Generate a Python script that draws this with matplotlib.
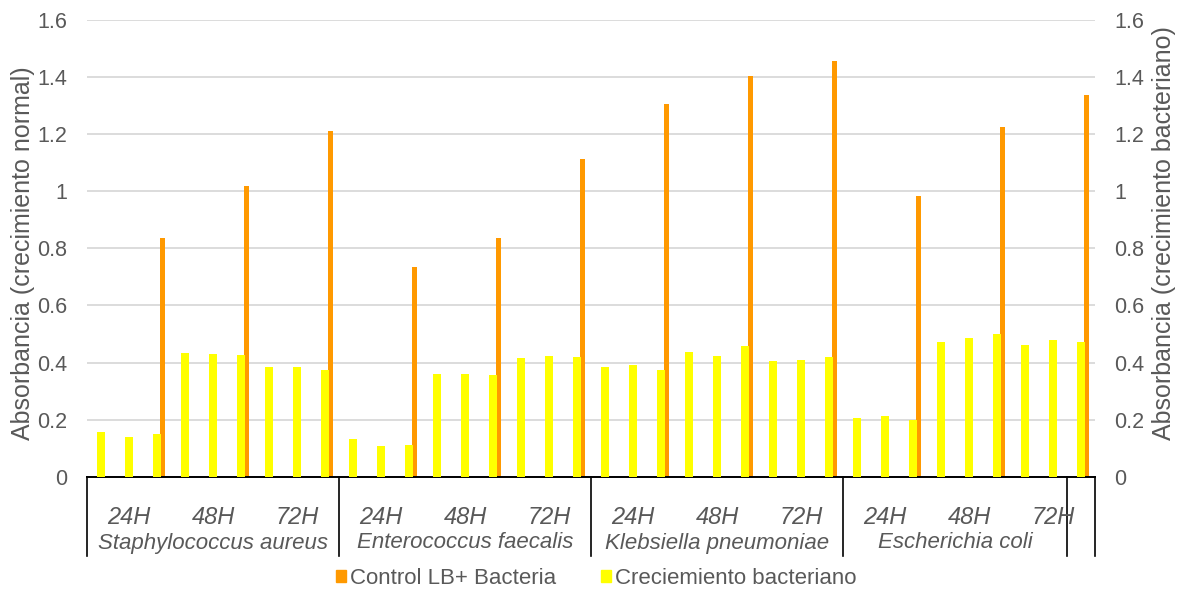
import matplotlib
matplotlib.use('Agg')
import matplotlib.pyplot as plt
import matplotlib.transforms as mtransforms
import numpy as np

plt.rcParams['font.family'] = ['Liberation Sans', 'DejaVu Sans']

bacteria = ['Staphylococcus aureus', 'Enterococcus faecalis',
            'Klebsiella pneumoniae', 'Escherichia coli']
times = ['24H', '48H', '72H']

# Creciemiento bacteriano (3 replicas per time, secondary axis)
growth = [0.158, 0.140, 0.151, 0.433, 0.429, 0.426, 0.384, 0.384, 0.373,
          0.133, 0.108, 0.112, 0.359, 0.359, 0.355, 0.415, 0.422, 0.419,
          0.384, 0.391, 0.373, 0.436, 0.422, 0.458, 0.405, 0.408, 0.419,
          0.204, 0.214, 0.200, 0.472, 0.486, 0.500, 0.461, 0.479, 0.472]

# Control LB+ Bacteria (one value per time, primary axis)
control = [0.835, 1.018, 1.212,
           0.736, 0.838, 1.113,
           1.304, 1.403, 1.455,
           0.983, 1.226, 1.336]

gray = '#595959'
orange = '#FF9900'
yellow = '#FFFF00'

x = np.arange(len(growth))
xc = np.arange(len(control)) * 3 + 2

fig = plt.figure(figsize=(11.8, 5.9), dpi=100)
ax = fig.add_axes([87/1180, 1 - 476.7/590, (1095-87)/1180, (476.7-20)/590])
ax2 = ax.twinx()

ax.bar(xc + 0.2, control, width=0.2, color=orange, zorder=2)
ax2.bar(x, growth, width=0.3, color=yellow, zorder=3)

for a in (ax, ax2):
    a.set_ylim(0, 1.6)
    a.set_xlim(-0.5, len(growth) - 0.5)
    a.set_yticks(np.arange(0, 1.61, 0.2))
    a.set_yticklabels(['0', '0.2', '0.4', '0.6', '0.8', '1', '1.2', '1.4', '1.6'])
    a.tick_params(axis='y', length=0, labelsize=15.5, labelcolor=gray, pad=14)
    for s in ['top', 'left', 'right', 'bottom']:
        a.spines[s].set_visible(False)
    a.set_xticks([])

ax.set_zorder(1)
ax2.set_zorder(2)
ax2.patch.set_visible(False)
ax.yaxis.grid(True, color='#d9d9d9', linewidth=1.3)
ax.set_axisbelow(True)

# axis titles
fig.text(23/1180, 1 - 253/590, 'Absorbancia (crecimiento normal)', rotation=90,
         ha='center', va='center', fontsize=18, color=gray)
fig.text(1164/1180, 1 - 233/590, 'Absorbancia (crecimiento bacteriano)', rotation=90,
         ha='center', va='center', fontsize=18, color=gray)

# multi-level category axis
trans = mtransforms.blended_transform_factory(ax.transData, fig.transFigure)
y_top = 1 - 476.7/590
y_bot = 1 - 556/590
ax.plot([-0.5, len(growth) - 0.5], [y_top, y_top], color='black', lw=1.4,
        transform=trans, clip_on=False, zorder=5)
for sep in [0, 9, 18, 27, 35, 36]:
    ax.plot([sep - 0.5, sep - 0.5], [y_top, y_bot], color='black', lw=1.2,
            transform=trans, clip_on=False)

for i, b in enumerate(bacteria):
    for j, t in enumerate(times):
        ax.text(i * 9 + j * 3 + 1, 1 - 517/590, t, transform=trans, ha='center',
                va='center', fontsize=17, style='italic', color=gray)
    end = 8 if i == len(bacteria) - 1 else 9
    ax.text(i * 9 + (end - 1) / 2, 1 - 543/590, b, transform=trans, ha='center',
            va='center', fontsize=16, style='italic', color=gray)

# legend
h1 = plt.Rectangle((0, 0), 1, 1, color=orange)
h2 = plt.Rectangle((0, 0), 1, 1, color=yellow)
fig.legend([h1, h2], ['Control LB+ Bacteria', 'Creciemiento bacteriano'],
           loc='center', bbox_to_anchor=(596/1180, 1 - 578/590), ncol=2,
           frameon=False, fontsize=16, labelcolor=gray, handlelength=0.45,
           handleheight=0.45, handletextpad=0.2, columnspacing=2.0)

fig.savefig('out.png', dpi=100)
